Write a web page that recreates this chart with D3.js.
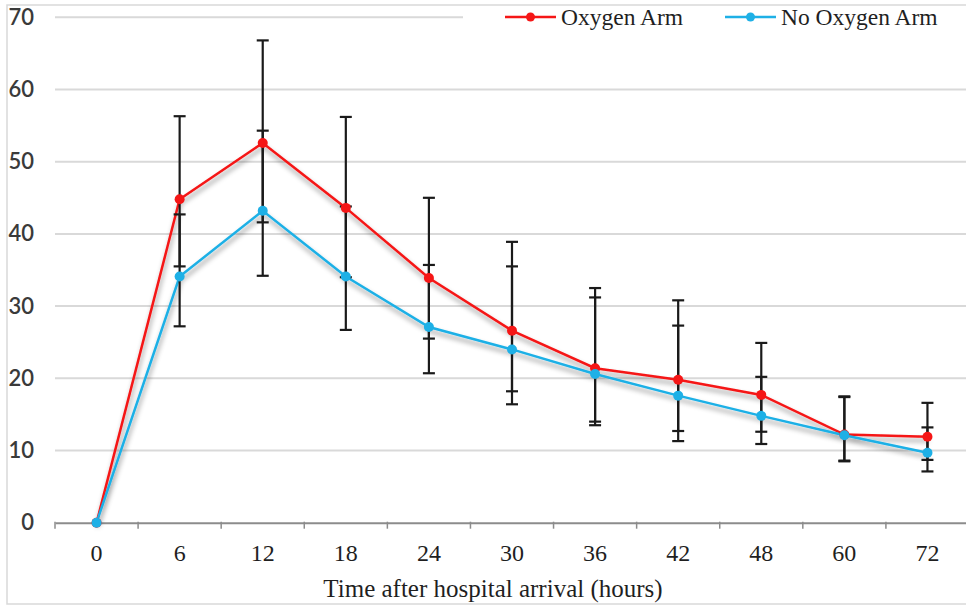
<!DOCTYPE html>
<html>
<head>
<meta charset="utf-8">
<script src="https://cdn.jsdelivr.net/npm/d3@7"></script>
<style>
  body { margin: 0; background: #fff; }
  svg { display: block; }
</style>
</head>
<body>
<svg width="966" height="605"></svg>
<script>
// values
var hours = ["0", "6", "12", "18", "24", "30", "36", "42", "48", "60", "72"];
var oxygen    = [0, 44.8, 52.6, 43.6, 33.9, 26.6, 21.4, 19.8, 17.7, 12.2, 11.9];
var oxygenLo  = [null, 35.5, 41.6, 34.0, 25.5, 18.2, 14.0, 12.7, 12.6, 8.6, 8.7];
var oxygenHi  = [null, 56.3, 66.8, 56.2, 45.0, 38.9, 32.5, 30.8, 24.9, 17.5, 16.6];
var noOxygen   = [0, 34.1, 43.2, 34.1, 27.1, 24.0, 20.6, 17.6, 14.8, 12.1, 9.7];
var noOxygenLo = [null, 27.2, 34.2, 26.7, 20.7, 16.4, 13.5, 11.3, 10.9, 8.5, 7.1];
var noOxygenHi = [null, 42.7, 54.3, 43.8, 35.7, 35.5, 31.2, 27.3, 20.2, 17.4, 13.2];
var yTicks = [0, 10, 20, 30, 40, 50, 60, 70];

var series = [
  {name: "Oxygen Arm", color: "#f51616", values: oxygen, lo: oxygenLo, hi: oxygenHi},
  {name: "No Oxygen Arm", color: "#1eb0e6", values: noOxygen, lo: noOxygenLo, hi: noOxygenHi}
];

var svg = d3.select("svg");

var x = d3.scaleBand().domain(hours).range([55, 969]).padding(0);
var y = d3.scaleLinear().domain([0, 70]).range([522.7, 17.3]);
var cx = function(h) { return x(h) + x.bandwidth() / 2; };

var defs = svg.append("defs");
var shadow = defs.append("filter").attr("id", "shadow")
    .attr("x", "-10%").attr("y", "-10%").attr("width", "120%").attr("height", "130%");
shadow.append("feDropShadow")
    .attr("dx", 1).attr("dy", 4).attr("stdDeviation", 2.4)
    .attr("flood-color", "#000").attr("flood-opacity", 0.42);

// outer border
svg.append("rect")
    .attr("x", 7).attr("y", 5).attr("width", 980).attr("height", 599)
    .attr("fill", "#fff").attr("stroke", "#d9d9d9").attr("stroke-width", 1.5);

// gridlines
svg.append("g").selectAll("line")
  .data(yTicks.filter(function(d) { return d > 0; }))
  .enter().append("line")
    .attr("x1", 55).attr("x2", 970)
    .attr("y1", function(d) { return y(d); })
    .attr("y2", function(d) { return y(d); })
    .attr("stroke", "#d9d9d9").attr("stroke-width", 2);

// y labels
svg.append("g").selectAll("text")
  .data(yTicks)
  .enter().append("text")
    .attr("x", 34)
    .attr("y", function(d) { return y(d) + 7.5; })
    .attr("text-anchor", "end")
    .attr("font-family", "Lato, sans-serif")
    .attr("font-size", 22)
    .attr("font-weight", 600)
    .attr("fill", "#3a3a3a")
    .text(function(d) { return d; });

// x axis
var xAxis = d3.axisBottom(x).tickSize(0).tickFormat("");
var gx = svg.append("g").attr("transform", "translate(0," + y(0) + ")").call(xAxis);
gx.select(".domain").attr("stroke", "#8c8c8c").attr("stroke-width", 2);
gx.append("g").selectAll("line")
  .data(hours.concat(["end"]))
  .enter().append("line")
    .attr("x1", function(d, i) { return 55 + i * x.bandwidth(); })
    .attr("x2", function(d, i) { return 55 + i * x.bandwidth(); })
    .attr("y1", -1).attr("y2", 6)
    .attr("stroke", "#8c8c8c").attr("stroke-width", 1.5);

svg.append("g").selectAll("text")
  .data(hours)
  .enter().append("text")
    .attr("x", function(d) { return cx(d); })
    .attr("y", 561)
    .attr("text-anchor", "middle")
    .attr("font-family", "'Liberation Serif', serif")
    .attr("font-size", 24)
    .attr("fill", "#1f1f1f")
    .text(function(d) { return d; });

svg.append("text")
    .attr("x", 493).attr("y", 597)
    .attr("text-anchor", "middle")
    .attr("font-family", "'Liberation Serif', serif")
    .attr("font-size", 25)
    .attr("fill", "#1f1f1f")
    .text("Time after hospital arrival (hours)");

// lines with shadow
var line = d3.line()
    .x(function(d, i) { return cx(hours[i]); })
    .y(function(d) { return y(d); });

svg.append("g").attr("filter", "url(#shadow)").selectAll("path")
  .data(series)
  .enter().append("path")
    .attr("d", function(s) { return line(s.values); })
    .attr("fill", "none")
    .attr("stroke", function(s) { return s.color; })
    .attr("stroke-width", 2.5);

// error bars
series.forEach(function(s) {
  var g = svg.append("g").attr("stroke", "#1a1a1a").attr("stroke-width", 2.2);
  hours.forEach(function(h, i) {
    if (s.lo[i] == null) return;
    var px = cx(h);
    g.append("line").attr("x1", px).attr("x2", px).attr("y1", y(s.lo[i])).attr("y2", y(s.hi[i]));
    g.append("line").attr("x1", px - 6).attr("x2", px + 6).attr("y1", y(s.lo[i])).attr("y2", y(s.lo[i]));
    g.append("line").attr("x1", px - 6).attr("x2", px + 6).attr("y1", y(s.hi[i])).attr("y2", y(s.hi[i]));
  });
});

// markers
series.forEach(function(s) {
  svg.append("g").selectAll("circle")
    .data(s.values)
    .enter().append("circle")
      .attr("cx", function(d, i) { return cx(hours[i]); })
      .attr("cy", function(d) { return y(d); })
      .attr("r", 5)
      .attr("fill", s.color);
});

// legend
var legend = svg.append("g");
legend.append("rect")
    .attr("x", 463).attr("y", 6).attr("width", 510).attr("height", 28)
    .attr("fill", "#fff");
var legendX = [505, 725];
series.forEach(function(s, i) {
  var lx = legendX[i];
  legend.append("line")
      .attr("x1", lx).attr("x2", lx + 51).attr("y1", 17).attr("y2", 17)
      .attr("stroke", s.color).attr("stroke-width", 2.5);
  legend.append("circle")
      .attr("cx", lx + 25.5).attr("cy", 17).attr("r", 4.5).attr("fill", s.color);
  legend.append("text")
      .attr("x", lx + 56).attr("y", 25)
      .attr("font-family", "'Liberation Serif', serif")
      .attr("font-size", 23.5)
      .attr("fill", "#1f1f1f")
      .text(s.name);
});
</script>
</body>
</html>
